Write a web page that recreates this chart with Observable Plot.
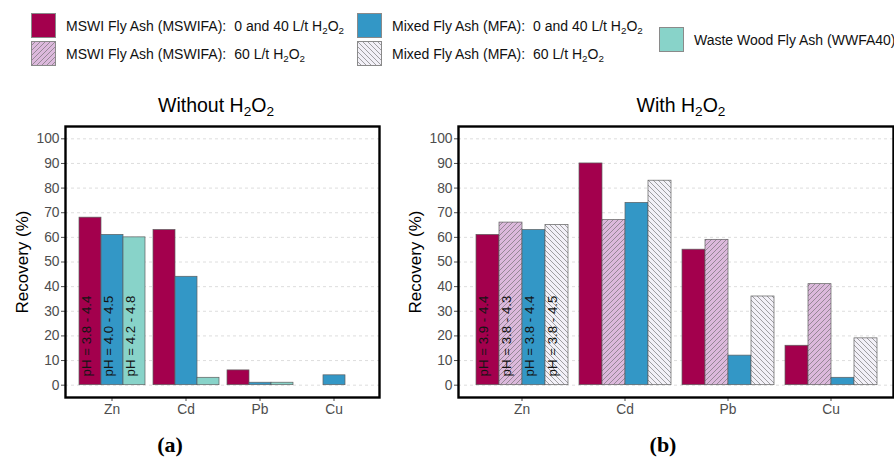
<!DOCTYPE html>
<html><head><meta charset="utf-8">
<script src="https://cdn.jsdelivr.net/npm/d3@7"></script>
<script src="https://cdn.jsdelivr.net/npm/@observablehq/plot@0.6"></script>
<style>
body{margin:0;background:#fff;font-family:"Liberation Sans",Arial,Helvetica,sans-serif;}
#root{position:relative;width:894px;height:458px;overflow:hidden;background:#fff;}
.leg{position:absolute;font-size:14px;color:#111;white-space:nowrap;line-height:1;transform:translateY(-50%);}
.leg .gap{display:inline-block;width:8px;}
.sw{position:absolute;width:25px;height:25px;}
sub{font-size:0.7em;vertical-align:-0.3em;line-height:0;}
.title{position:absolute;font-size:19.5px;color:#000;white-space:nowrap;transform:translate(-50%,-50%);line-height:1;}
.tag{position:absolute;font-family:"Liberation Serif","Times New Roman",serif;font-weight:bold;font-size:22px;transform:translate(-50%,-50%);line-height:1;}
.panel{position:absolute;top:100px;}
.panel svg{position:absolute;left:0;top:0;overflow:visible;}
.panel svg text{font-family:"Liberation Sans",Arial,sans-serif;}
</style></head><body>
<svg width="0" height="0" style="position:absolute">
<defs>
<pattern id="hatchMSW" patternUnits="userSpaceOnUse" width="5" height="5">
<rect width="5" height="5" fill="#dcb9dc"/>
<path d="M-1,1 L1,-1 M0,5 L5,0 M4,6 L6,4" stroke="#666" stroke-width="0.6"/>
</pattern>
<pattern id="hatchMFA" patternUnits="userSpaceOnUse" width="5" height="5">
<rect width="5" height="5" fill="#f2f0f7"/>
<path d="M-1,4 L1,6 M0,0 L5,5 M4,-1 L6,1" stroke="#666" stroke-width="0.6"/>
</pattern>
</defs>
</svg>
<div id="root"></div>
<script>
// ---- data ----
const elements = ["Zn", "Cd", "Pb", "Cu"];
const yTicks = [0, 10, 20, 30, 40, 50, 60, 70, 80, 90, 100];
const yLabel = "Recovery (%)";

// Panel (a): Without H2O2
const seriesWithout = ["MSWIFA", "MFA", "WWFA"];
const withoutMSWIFA = [68, 63, 6, null];
const withoutMFA = [61, 44, 1, 4];
const withoutWWFA = [60, 3, 1, null];
const phWithout = ["pH = 3.8 - 4.4", "pH = 4.0 - 4.5", "pH = 4.2 - 4.8"];

// Panel (b): With H2O2
const seriesWith = ["MSWIFA", "MSWIFA60", "MFA", "MFA60"];
const withMSWIFA = [61, 90, 55, 16];
const withMSWIFA60 = [66, 67, 59, 41];
const withMFA = [63, 74, 12, 3];
const withMFA60 = [65, 83, 36, 19];
const phWith = ["pH = 3.9 - 4.4", "pH = 3.8 - 4.3", "pH = 3.8 - 4.4", "pH = 3.8 - 4.5"];

const legendLabels = [
  "MSWI Fly Ash (MSWIFA):<span class='gap'></span>0 and 40 L/t H<sub>2</sub>O<sub>2</sub>",
  "MSWI Fly Ash (MSWIFA):<span class='gap'></span>60 L/t H<sub>2</sub>O<sub>2</sub>",
  "Mixed Fly Ash (MFA):<span class='gap'></span>0 and 40 L/t H<sub>2</sub>O<sub>2</sub>",
  "Mixed Fly Ash (MFA):<span class='gap'></span>60 L/t H<sub>2</sub>O<sub>2</sub>",
  "Waste Wood Fly Ash (WWFA40)"
];

// ---- styles ----
const fills = {
  MSWIFA: "#a3004d",
  MSWIFA60: "url(#hatchMSW)",
  MFA: "#3397c6",
  MFA60: "url(#hatchMFA)",
  WWFA: "#88d3c9"
};

const root = document.getElementById("root");

// legend
const legendOrder = ["MSWIFA", "MSWIFA60", "MFA", "MFA60", "WWFA"];
const legendPos = [[31, 13, 66, 26], [31, 41, 66, 54], [357, 13, 392, 26], [357, 41, 392, 54], [659, 27, 694, 40]];
legendOrder.forEach((k, i) => {
  const [sx, sy, tx, ty] = legendPos[i];
  const sw = document.createElementNS("http://www.w3.org/2000/svg", "svg");
  sw.setAttribute("width", 25); sw.setAttribute("height", 25);
  sw.setAttribute("class", "sw");
  sw.style.left = sx + "px"; sw.style.top = sy + "px";
  sw.innerHTML = `<rect x="0.5" y="0.5" width="24" height="24" fill="${fills[k]}" stroke="#8a8a8a" stroke-width="1"/>`;
  root.appendChild(sw);
  const t = document.createElement("div");
  t.className = "leg";
  t.style.left = tx + "px"; t.style.top = ty + "px";
  t.innerHTML = legendLabels[i];
  root.appendChild(t);
});

function addDiv(cls, html, x, y) {
  const d = document.createElement("div");
  d.className = cls; d.innerHTML = html;
  d.style.left = x + "px"; d.style.top = y + "px";
  root.appendChild(d);
}
addDiv("title", "Without H<sub>2</sub>O<sub>2</sub>", 216, 106);
addDiv("title", "With H<sub>2</sub>O<sub>2</sub>", 681, 106);
addDiv("tag", "(a)", 170, 445);
addDiv("tag", "(b)", 663, 445);

function buildRows(series, valueArrays, phLabels) {
  const rows = [];
  elements.forEach((el, i) => {
    series.forEach((s, j) => {
      rows.push({element: el, series: s, value: valueArrays[j][i], ph: i === 0 ? phLabels[j] : null});
    });
  });
  return rows;
}

function panel(left, width, marginRight, series, rows) {
  const wrap = document.createElement("div");
  wrap.className = "panel";
  wrap.style.left = left + "px";
  wrap.style.width = width + "px";
  wrap.style.height = "330px";
  root.appendChild(wrap);
  const common = {
    width, height: 330,
    marginLeft: 65, marginRight, marginTop: 26, marginBottom: 33,
    style: {fontSize: "13.8px", color: "#4d4d4d", background: "transparent", overflow: "visible"}
  };
  const bg = Plot.plot({
    ...common,
    x: {type: "band", domain: elements, paddingInner: 0.1, paddingOuter: 0.15, tickSize: 4, tickPadding: 3, label: null},
    y: {domain: [-5, 105], ticks: yTicks, tickSize: 4, tickPadding: 2, label: yLabel, labelArrow: "none", labelAnchor: "center", labelOffset: 50},
    marks: [
      Plot.ruleY(yTicks, {stroke: "#d6d6d6", strokeDasharray: "3,3", strokeWidth: 0.8}),
      Plot.frame({stroke: "#000", strokeWidth: 2.4})
    ]
  });
  const fg = Plot.plot({
    ...common,
    facet: {data: rows, x: "element"},
    fx: {domain: elements, paddingInner: 0.1, paddingOuter: 0.15, axis: null, label: null},
    x: {type: "band", domain: series, padding: 0, axis: null},
    y: {domain: [-5, 105], axis: null},
    color: {type: "ordinal", domain: series, range: series.map(s => fills[s])},
    marks: [
      Plot.barY(rows, {x: "series", y: "value", fill: "series", stroke: "#5e5e5e", strokeWidth: 0.7}),
      Plot.text(rows, {filter: d => d.ph, x: "series", text: "ph", rotate: -90, textAnchor: "start",
        frameAnchor: "bottom", dy: -21, fontSize: 13.3, fill: "#141414"})
    ]
  });
  wrap.appendChild(bg);
  wrap.appendChild(fg);
  d3.select(bg).selectAll("text").each(function () {
    if (this.textContent.includes("Recovery")) {
      this.textContent = yLabel;
      d3.select(this).style("font-size", "17px").attr("fill", "#000");
    }
  });
}

panel(0, 385, 6, seriesWithout, buildRows(seriesWithout, [withoutMSWIFA, withoutMFA, withoutWWFA], phWithout));
panel(393, 501, 1, seriesWith, buildRows(seriesWith, [withMSWIFA, withMSWIFA60, withMFA, withMFA60], phWith));
</script>
</body></html>
